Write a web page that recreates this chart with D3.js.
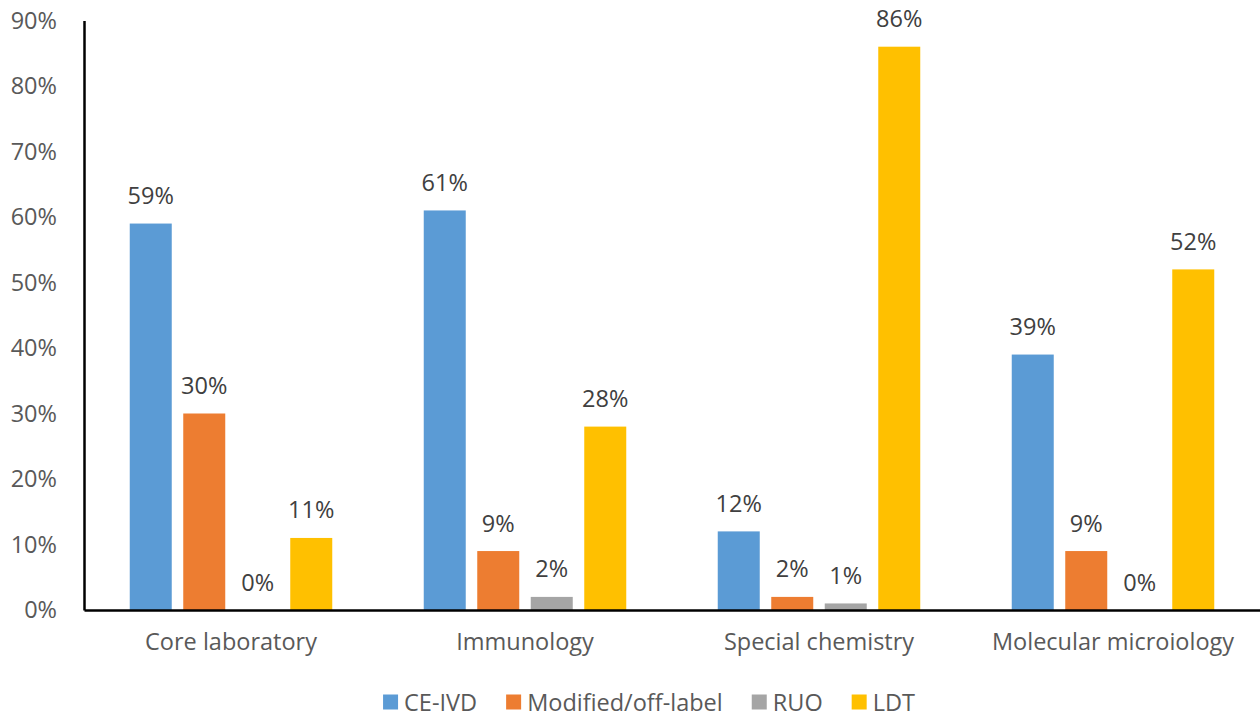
<!DOCTYPE html>
<html>
<head>
<meta charset="utf-8">
<script src="https://cdn.jsdelivr.net/npm/d3@7"></script>
<style>
  body { margin: 0; background: #fff; }
  svg { display: block; font-family: "Open Sans", "Noto Sans", sans-serif; }
</style>
</head>
<body>
<script>
var categories = ["Core laboratory", "Immunology", "Special chemistry", "Molecular microiology"];
var seriesNames = ["CE-IVD", "Modified/off-label", "RUO", "LDT"];
var ceIvd = [59, 61, 12, 39];
var modified = [30, 9, 2, 9];
var ruo = [0, 2, 1, 0];
var ldt = [11, 28, 86, 52];
var yTicks = [0, 10, 20, 30, 40, 50, 60, 70, 80, 90];
var colors = ["#5B9BD5", "#ED7D31", "#A5A5A5", "#FFC000"];

var seriesValues = [ceIvd, modified, ruo, ldt];

var w = 1260, h = 719;
var margin = {left: 84, right: 0, top: 20.5, bottom: 109};
var fontSize = "23.5px";

var svg = d3.select("body").append("svg")
    .attr("width", w)
    .attr("height", h);

//scales
var x0 = d3.scaleBand()
    .domain(categories)
    .range([margin.left, w - margin.right]);

var x1 = d3.scaleBand()
    .domain(seriesNames)
    .range([0, x0.bandwidth()])
    .paddingInner(0.215)
    .paddingOuter(0.855);

var y = d3.scaleLinear()
    .domain([0, 90])
    .range([h - margin.bottom, margin.top]);

//bars
var groups = svg.selectAll("g.group")
    .data(categories)
    .enter()
    .append("g")
    .attr("class", "group")
    .attr("transform", function (d) { return "translate(" + x0(d) + ",0)"; });

groups.selectAll("rect")
    .data(function (d, i) {
        return seriesNames.map(function (s, j) {
            return {series: s, value: seriesValues[j][i], color: colors[j]};
        });
    })
    .enter()
    .append("rect")
    .attr("x", function (d) { return x1(d.series); })
    .attr("y", function (d) { return y(d.value); })
    .attr("width", x1.bandwidth())
    .attr("height", function (d) { return y(0) - y(d.value); })
    .style("fill", function (d) { return d.color; });

groups.selectAll("text.val")
    .data(function (d, i) {
        return seriesNames.map(function (s, j) {
            return {series: s, value: seriesValues[j][i]};
        });
    })
    .enter()
    .append("text")
    .attr("class", "val")
    .attr("x", function (d) { return x1(d.series) + x1.bandwidth() / 2; })
    .attr("y", function (d) { return y(d.value) - 28.5; })
    .attr("text-anchor", "middle")
    .attr("dominant-baseline", "central")
    .style("font-size", fontSize)
    .style("fill", "#404040")
    .text(function (d) { return d.value + "%"; });

//y axis
var yAxis = d3.axisLeft(y)
    .tickValues(yTicks)
    .tickSize(0)
    .tickPadding(27)
    .tickFormat(function (d) { return d + "%"; });

var gy = svg.append("g")
    .attr("transform", "translate(" + margin.left + ",0)")
    .call(yAxis);
gy.select(".domain").attr("stroke", "#000").attr("stroke-width", 2.5);
gy.selectAll("text")
    .style("font-size", fontSize)
    .style("fill", "#595959")
    .style("font-family", "'Open Sans', sans-serif");

//x axis
var xAxis = d3.axisBottom(x0)
    .tickSize(0)
    .tickPadding(23);

var gx = svg.append("g")
    .attr("transform", "translate(0," + y(0) + ")")
    .call(xAxis);
gx.select(".domain").attr("stroke", "#000").attr("stroke-width", 2.5);
gx.selectAll("text")
    .style("font-size", fontSize)
    .style("fill", "#595959")
    .style("font-family", "'Open Sans', sans-serif");

//legend
var legend = svg.append("g").attr("class", "legend");
var xPos = 0;
seriesNames.forEach(function (s, i) {
    var item = legend.append("g").attr("transform", "translate(" + xPos + ",0)");
    item.append("rect")
        .attr("x", 0)
        .attr("y", -7.5)
        .attr("width", 15)
        .attr("height", 15)
        .style("fill", colors[i]);
    var t = item.append("text")
        .attr("x", 21)
        .attr("y", 0)
        .attr("dominant-baseline", "central")
        .style("font-size", fontSize)
        .style("fill", "#595959")
        .text(s);
    xPos += 21 + t.node().getComputedTextLength() + 29;
});
var legendWidth = xPos - 29;
legend.attr("transform", "translate(" + (649 - legendWidth / 2) + ",702)");
</script>
</body>
</html>
